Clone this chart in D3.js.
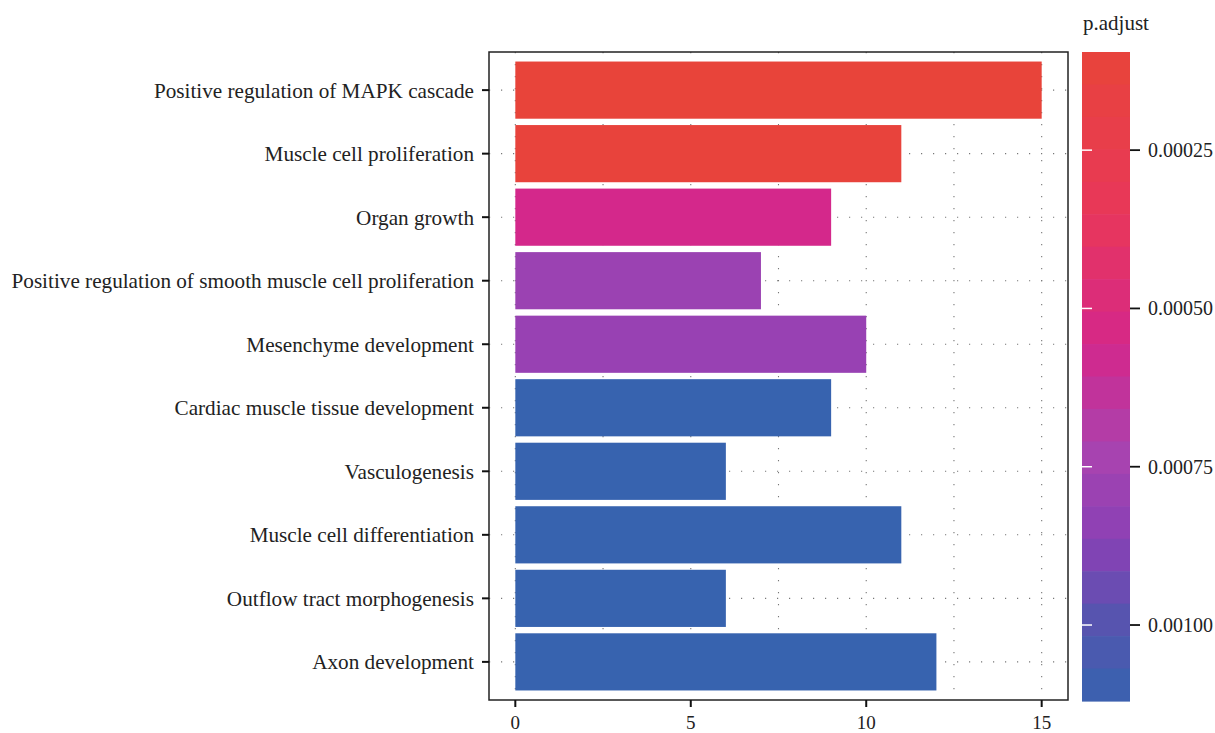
<!DOCTYPE html>
<html><head><meta charset="utf-8">
<script src="https://cdn.jsdelivr.net/npm/d3@7"></script>
<style>body{margin:0;background:#fff;} text{font-family:"Liberation Serif","Times New Roman",serif;fill:#222;}</style>
</head><body>
<svg id="chart" width="1215" height="733"></svg>
<script>
const categories = [
  "Positive regulation of MAPK cascade",
  "Muscle cell proliferation",
  "Organ growth",
  "Positive regulation of smooth muscle cell proliferation",
  "Mesenchyme development",
  "Cardiac muscle tissue development",
  "Vasculogenesis",
  "Muscle cell differentiation",
  "Outflow tract morphogenesis",
  "Axon development"
];
const counts = [15, 11, 9, 7, 10, 9, 6, 11, 6, 12];
const pAdjust = [0.000095, 0.00011, 0.00056, 0.00079, 0.00080, 0.00112, 0.00112, 0.00112, 0.00112, 0.00112];
const xTicks = [0, 5, 10, 15];
const legendTicks = [0.00025, 0.00050, 0.00075, 0.00100];
const legendTitle = "p.adjust";

const svg = d3.select("#chart");
const panel = {left: 489, right: 1068, top: 52, bottom: 700};

const x = d3.scaleLinear().domain([-0.75, 15.75]).range([panel.left, panel.right]);
const yPos = d3.scaleLinear().domain([0.4, 10.6]).range([panel.top, panel.bottom]);
const unit = yPos(1) - yPos(0);

const pMin = d3.min(pAdjust), pMax = d3.max(pAdjust);
const stopT = [0, 0.25, 0.45, 0.62, 0.75, 0.88, 1];
const stopC = ["#E8443A", "#E8375A", "#D5278A", "#A843B0", "#8A40B5", "#5555AF", "#3763AF"];
const tScale = d3.scaleLinear().domain([pMin, pMax]).range([0, 1]);
const colT = d3.scaleLinear().domain(stopT).range(stopC).interpolate(d3.interpolateRgb);
const color = p => colT(tScale(p));

// gridlines
const g = svg.append("g");
const minorX = d3.range(0, 15.01, 2.5);
g.selectAll("line.vg").data(minorX).enter().append("line")
  .attr("x1", d => x(d)).attr("x2", d => x(d))
  .attr("y1", panel.top).attr("y2", panel.bottom)
  .attr("stroke", "#777").attr("stroke-width", 1.1).attr("stroke-dasharray", "1.2,10.8");
g.selectAll("line.hg").data(categories).enter().append("line")
  .attr("x1", panel.left).attr("x2", panel.right)
  .attr("y1", (d, i) => yPos(i + 1)).attr("y2", (d, i) => yPos(i + 1))
  .attr("stroke", "#777").attr("stroke-width", 1.1).attr("stroke-dasharray", "1.2,10.8");

// bars
svg.append("g").selectAll("rect").data(categories).enter().append("rect")
  .attr("x", x(0))
  .attr("y", (d, i) => yPos(i + 1) - unit * 0.45)
  .attr("width", (d, i) => x(counts[i]) - x(0))
  .attr("height", unit * 0.9)
  .attr("fill", (d, i) => color(pAdjust[i]));

// panel border
svg.append("rect").attr("x", panel.left).attr("y", panel.top)
  .attr("width", panel.right - panel.left).attr("height", panel.bottom - panel.top)
  .attr("fill", "none").attr("stroke", "#222").attr("stroke-width", 1.5);

// x axis
const xa = svg.append("g");
xa.selectAll("line").data(xTicks).enter().append("line")
  .attr("x1", d => x(d)).attr("x2", d => x(d))
  .attr("y1", panel.bottom).attr("y2", panel.bottom + 7)
  .attr("stroke", "#111").attr("stroke-width", 2);
xa.selectAll("text").data(xTicks).enter().append("text")
  .attr("x", d => x(d)).attr("y", panel.bottom + 29)
  .attr("text-anchor", "middle").attr("font-size", 19).text(d => d);

// y axis
const ya = svg.append("g");
ya.selectAll("line").data(categories).enter().append("line")
  .attr("x1", panel.left - 7).attr("x2", panel.left)
  .attr("y1", (d, i) => yPos(i + 1)).attr("y2", (d, i) => yPos(i + 1))
  .attr("stroke", "#111").attr("stroke-width", 2);
ya.selectAll("text").data(categories).enter().append("text")
  .attr("x", panel.left - 15).attr("y", (d, i) => yPos(i + 1))
  .attr("dy", "0.35em").attr("text-anchor", "end").attr("font-size", 21.2).text(d => d);

// legend colorbar
const lg = {left: 1082, width: 48, top: 52, bottom: 701};
const ly = d3.scaleLinear().domain([pMin, pMax]).range([lg.top, lg.bottom]);
const nbin = 20;
const bins = d3.range(nbin);
const binH = (lg.bottom - lg.top) / nbin;
svg.append("g").selectAll("rect").data(bins).enter().append("rect")
  .attr("x", lg.left).attr("width", lg.width)
  .attr("y", d => lg.top + d * binH).attr("height", binH + 0.6)
  .attr("fill", d => color(pMin + (d + 0.5) / nbin * (pMax - pMin)));
const lt = svg.append("g");
lt.selectAll("line.w").data(legendTicks).enter().append("line")
  .attr("x1", lg.left).attr("x2", lg.left + 10)
  .attr("y1", d => ly(d)).attr("y2", d => ly(d))
  .attr("stroke", "#fff").attr("stroke-width", 1.5);
lt.selectAll("line.b").data(legendTicks).enter().append("line")
  .attr("x1", lg.left + lg.width).attr("x2", lg.left + lg.width + 10)
  .attr("y1", d => ly(d)).attr("y2", d => ly(d))
  .attr("stroke", "#111").attr("stroke-width", 1.8);
lt.selectAll("text").data(legendTicks).enter().append("text")
  .attr("x", lg.left + lg.width + 18).attr("y", d => ly(d))
  .attr("dy", "0.35em").attr("font-size", 20).text(d => d3.format(".5f")(d));
svg.append("text").attr("x", lg.left + 1).attr("y", 30)
  .attr("font-size", 21).text(legendTitle);
</script>
</body></html>
